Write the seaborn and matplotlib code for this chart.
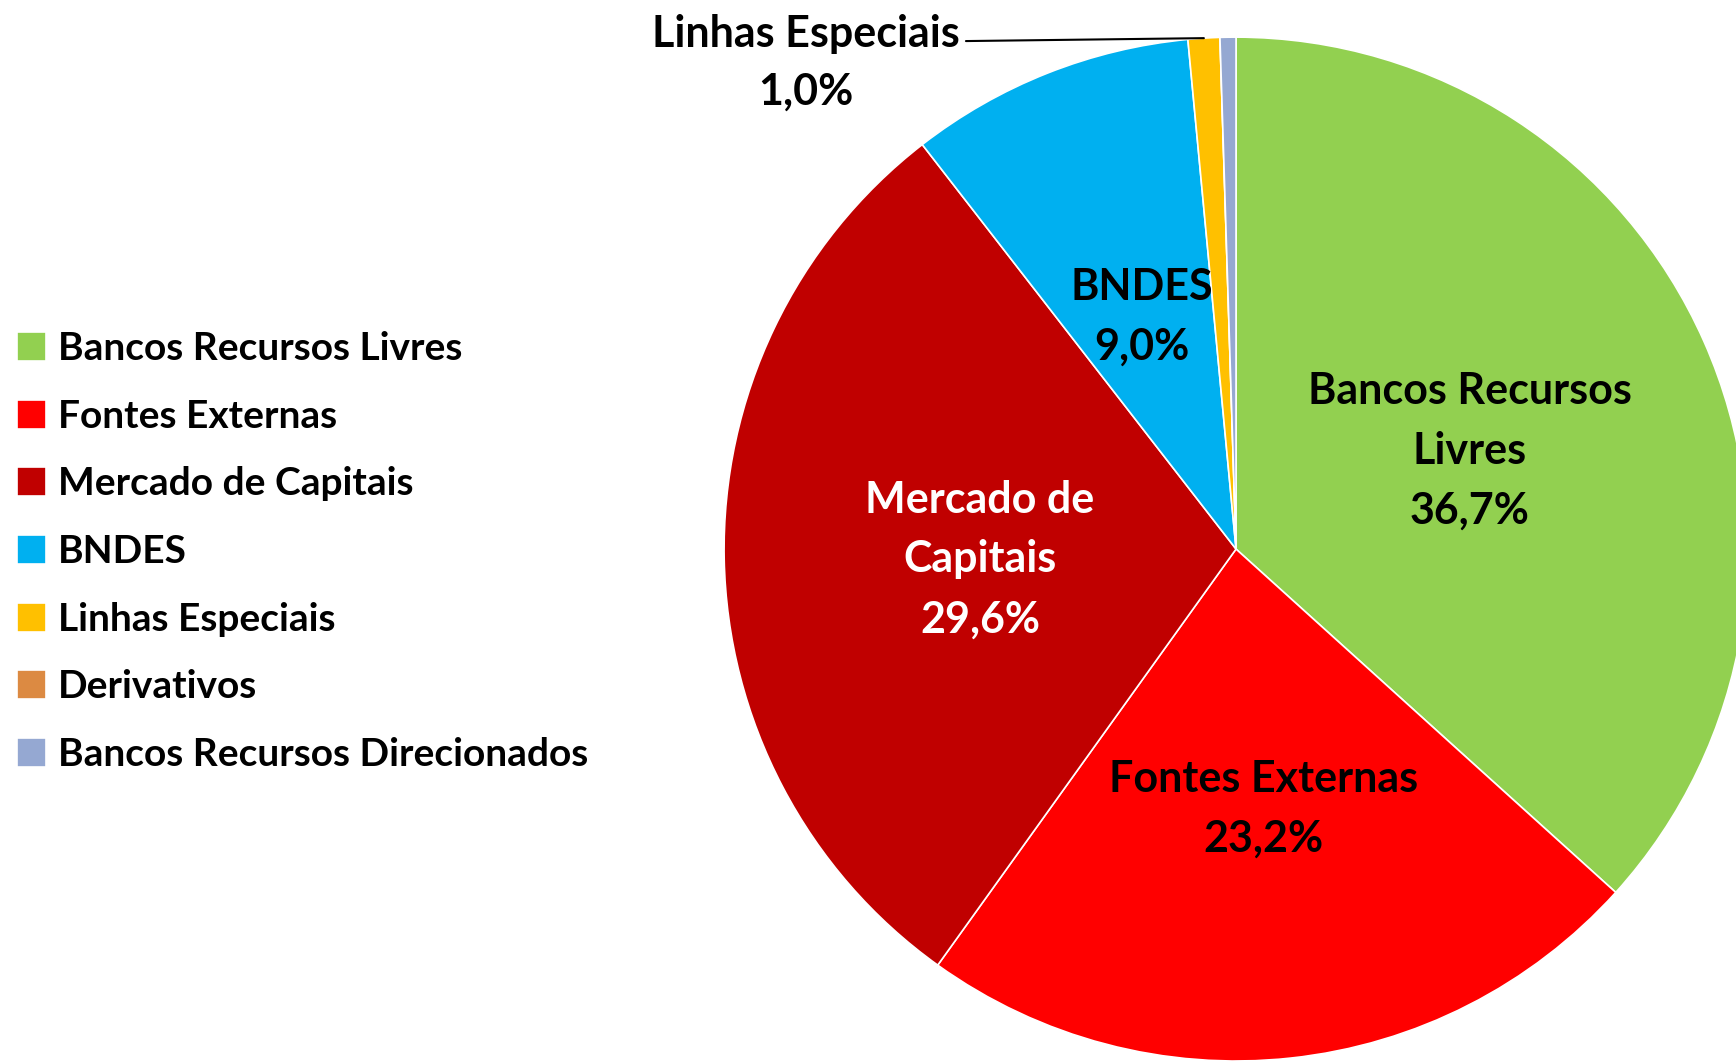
import seaborn as sns
import numpy as np
import matplotlib.pyplot as plt

categories = ["Bancos Recursos Livres", "Fontes Externas", "Mercado de Capitais",
              "BNDES", "Linhas Especiais", "Derivativos", "Bancos Recursos Direcionados"]
shares = [36.7, 23.2, 29.6, 9.0, 1.0, 0.0, 0.5]
slice_labels = ["Bancos Recursos\nLivres", "Fontes Externas", "Mercado de\nCapitais",
                "BNDES", None, None, None]
label_colors = ["black", "black", "white", "black", "black", "black", "black"]
hex_colors = ["#92D050", "#FF0000", "#C00000", "#00B0F0", "#FFC000", "#DC8A42", "#95A8D2"]

sns.set_theme(style="white")
plt.rcParams['font.family'] = ['Lato', 'DejaVu Sans']
plt.rcParams['font.weight'] = 'bold'
plt.rcParams['text.color'] = 'black'
palette = sns.color_palette(hex_colors)

fig = plt.figure(figsize=(17.36, 10.61), dpi=100)
ax = fig.add_axes([0.417, 0.0, 0.590, 0.965])

wedges, _ = ax.pie(shares, colors=palette, startangle=90, counterclock=False,
                   radius=1.0, wedgeprops=dict(edgecolor="white", linewidth=1.2))
ax.set_xlim(-1, 1)
ax.set_ylim(-1, 1)
ax.set_aspect("equal")
ax.axis("off")

def fmt(v):
    return f"{v:.1f}%".replace(".", ",")

for w, lab, val, col in zip(wedges, slice_labels, shares, label_colors):
    if lab is None:
        continue
    mid = np.deg2rad((w.theta1 + w.theta2) / 2)
    ax.annotate(f"{lab}\n{fmt(val)}", xy=(0.5 * np.cos(mid), 0.5 * np.sin(mid)),
                xytext=(0, -4), textcoords="offset points",
                ha="center", va="center", fontsize=31, fontweight="bold",
                color=col, linespacing=1.6)

# Linhas Especiais callout
w = wedges[4]
mid = np.deg2rad((w.theta1 + w.theta2) / 2)
ax.annotate(f"Linhas Especiais\n{fmt(shares[4])}",
            xy=(np.cos(mid), np.sin(mid)), xytext=(-0.84, 0.95),
            ha="center", va="center", fontsize=31, fontweight="bold",
            linespacing=1.55, annotation_clip=False,
            arrowprops=dict(arrowstyle="-", color="black", lw=1.5,
                            relpos=(1.0, 0.72), shrinkA=2, shrinkB=0))

fig.legend(wedges, categories, loc="upper left", bbox_to_anchor=(0.0097, 0.688),
           frameon=False, fontsize=28, handlelength=0.76, handleheight=0.76,
           handletextpad=0.3, labelspacing=0.84, borderaxespad=0, borderpad=0,
           labelcolor="black")

fig.savefig("out.png", dpi=100)
